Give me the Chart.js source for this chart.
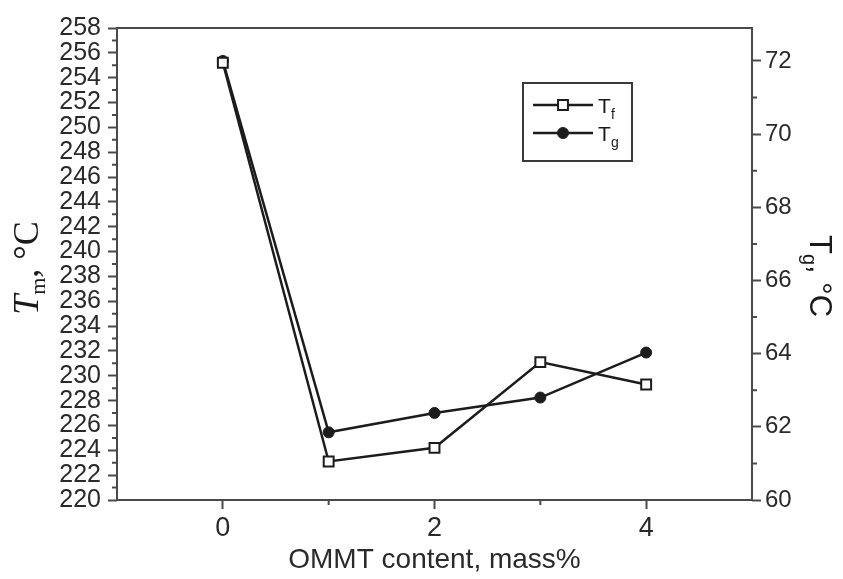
<!DOCTYPE html>
<html>
<head>
<meta charset="utf-8">
<script src="https://cdn.jsdelivr.net/npm/chart.js@4/dist/chart.umd.min.js"></script>
<style>
  html, body { margin: 0; padding: 0; background: #fff; }
  #wrap { width: 843px; height: 579px; }
</style>
</head>
<body>
<div id="wrap"><canvas id="chart"></canvas></div>
<script>
// OMMT content (mass%) and the two temperatures
const contents = [0, 1, 2, 3, 4];
const tfValues = [255.2, 223.1, 224.2, 231.1, 229.3];   // left axis, °C
const tgValues = [72.0, 61.85, 62.38, 62.8, 64.03];     // right axis, °C
const xTickLabels = ['0', '2', '4'];
const xMinorTicks = [1, 3];

const sans = '"Liberation Sans", Arial, sans-serif';
const serif = '"Liberation Serif", "Times New Roman", serif';
const axisColor = '#4a4a4a';
const lineColor = '#1c1c1c';

function drawRich(ctx, parts, cx, cy, angle) {
  ctx.save();
  ctx.translate(cx, cy);
  ctx.rotate(angle);
  ctx.textBaseline = 'alphabetic';
  ctx.textAlign = 'left';
  let total = 0;
  parts.forEach(p => { ctx.font = p.font; p.w = ctx.measureText(p.text).width; total += p.w; });
  let x = -total / 2;
  parts.forEach(p => {
    ctx.font = p.font;
    ctx.fillStyle = p.color || '#1a1a1a';
    ctx.fillText(p.text, x, p.dy);
    x += p.w;
  });
  ctx.restore();
}

const extras = {
  id: 'extras',
  afterDraw(chart) {
    const ctx = chart.ctx;
    const {left, right, top, bottom} = chart.chartArea;
    const sy = chart.scales.y, sy2 = chart.scales.y2, sx = chart.scales.x;
    ctx.save();
    ctx.strokeStyle = axisColor;
    ctx.lineWidth = 2;
    ctx.beginPath();
    for (let v = sy.min + 1; v < sy.max; v += 2) {
      const py = sy.getPixelForValue(v);
      ctx.moveTo(left - 5, py); ctx.lineTo(left, py);
    }
    for (let v = sy2.min + 1; v < sy2.max; v += 2) {
      const py = sy2.getPixelForValue(v);
      ctx.moveTo(right, py); ctx.lineTo(right + 5, py);
    }
    xMinorTicks.forEach(v => {
      const px = sx.getPixelForValue(v);
      ctx.moveTo(px, bottom); ctx.lineTo(px, bottom + 5);
    });
    ctx.stroke();
    ctx.strokeRect(left, top, right - left, bottom - top);

    // legend
    const lx = 523, ly = 83, lw = 109, lh = 78;
    ctx.strokeStyle = '#3a3a3a';
    ctx.strokeRect(lx, ly, lw, lh);
    const rows = [
      {y: 105, sub: 'f', ds: chart.data.datasets[0]},
      {y: 133, sub: 'g', ds: chart.data.datasets[1]}
    ];
    rows.forEach(r => {
      ctx.strokeStyle = r.ds.borderColor;
      ctx.lineWidth = r.ds.borderWidth;
      ctx.beginPath();
      ctx.moveTo(533, r.y); ctx.lineTo(593, r.y);
      ctx.stroke();
      ctx.fillStyle = r.ds.pointBackgroundColor;
      ctx.strokeStyle = r.ds.pointBorderColor;
      ctx.lineWidth = r.ds.pointBorderWidth;
      Chart.helpers.drawPoint(ctx, {pointStyle: r.ds.pointStyle, radius: r.ds.pointRadius, borderWidth: r.ds.pointBorderWidth}, 563, r.y);
      ctx.fillStyle = '#1a1a1a';
      ctx.textBaseline = 'alphabetic';
      ctx.textAlign = 'left';
      ctx.font = '21px ' + sans;
      ctx.fillText('T', 598, r.y + 8);
      ctx.font = '14px ' + sans;
      ctx.fillText(r.sub, 611, r.y + 14);
    });
    ctx.restore();

    // axis titles
    drawRich(ctx, [
      {text: 'T', font: 'italic 36px ' + serif, dy: 12},
      {text: 'm', font: '22px ' + serif, dy: 19},
      {text: ', °C', font: '36px ' + serif, dy: 12}
    ], 26, 268, -Math.PI / 2);
    drawRich(ctx, [
      {text: 'T', font: '31px ' + sans, dy: 11},
      {text: 'g', font: '20px ' + sans, dy: 18},
      {text: ', °C', font: '31px ' + sans, dy: 11}
    ], 821, 276, Math.PI / 2);
  }
};

const gridOpts = {
  drawOnChartArea: false,
  drawTicks: true,
  tickLength: 9,
  tickWidth: 2,
  tickColor: axisColor
};

new Chart(document.getElementById('chart').getContext('2d'), {
  type: 'line',
  data: {
    datasets: [{
      label: 'Tf',
      data: contents.map((c, i) => ({x: c, y: tfValues[i]})),
      yAxisID: 'y',
      borderColor: lineColor,
      borderWidth: 2.5,
      pointStyle: 'rect',
      pointRadius: 7,
      pointBackgroundColor: '#ffffff',
      pointBorderColor: lineColor,
      pointBorderWidth: 2,
      tension: 0
    }, {
      label: 'Tg',
      data: contents.map((c, i) => ({x: c, y: tgValues[i]})),
      yAxisID: 'y2',
      borderColor: lineColor,
      borderWidth: 2.5,
      pointStyle: 'circle',
      pointRadius: 5.5,
      pointBackgroundColor: lineColor,
      pointBorderColor: lineColor,
      pointBorderWidth: 1,
      tension: 0
    }]
  },
  options: {
    responsive: true,
    maintainAspectRatio: false,
    animation: false,
    layout: { padding: { top: 28, left: 0, right: 0, bottom: 0 } },
    plugins: { legend: { display: false }, tooltip: { enabled: false } },
    scales: {
      x: {
        type: 'linear',
        position: 'bottom',
        min: -1,
        max: 5,
        ticks: {
          stepSize: 1,
          autoSkip: false,
          maxRotation: 0,
          padding: 3,
          color: '#2a2a2a',
          font: { size: 27, family: sans },
          callback: v => xTickLabels.includes(String(v)) ? String(v) : ''
        },
        grid: Object.assign({}, gridOpts, {
          tickColor: c => xTickLabels.includes(String(c.tick && c.tick.value)) ? axisColor : 'rgba(0,0,0,0)'
        }),
        border: { display: false },
        title: {
          display: true,
          text: 'OMMT content, mass%',
          color: '#2a2a2a',
          font: { size: 28, family: sans },
          padding: { top: 0, bottom: 2 }
        },
        afterFit: s => { s.height = 79; }
      },
      y: {
        position: 'left',
        min: 220,
        max: 258,
        ticks: {
          stepSize: 2,
          autoSkip: false,
          padding: 7,
          color: '#2a2a2a',
          font: { size: 25, family: sans }
        },
        grid: gridOpts,
        border: { display: false },
        afterFit: s => { s.width = 117; }
      },
      y2: {
        position: 'right',
        min: 60,
        max: 72.9,
        ticks: {
          stepSize: 2,
          includeBounds: false,
          autoSkip: false,
          padding: 4,
          color: '#2a2a2a',
          font: { size: 24, family: sans }
        },
        grid: gridOpts,
        border: { display: false },
        afterFit: s => { s.width = 91; }
      }
    }
  },
  plugins: [extras]
});
</script>
</body>
</html>
